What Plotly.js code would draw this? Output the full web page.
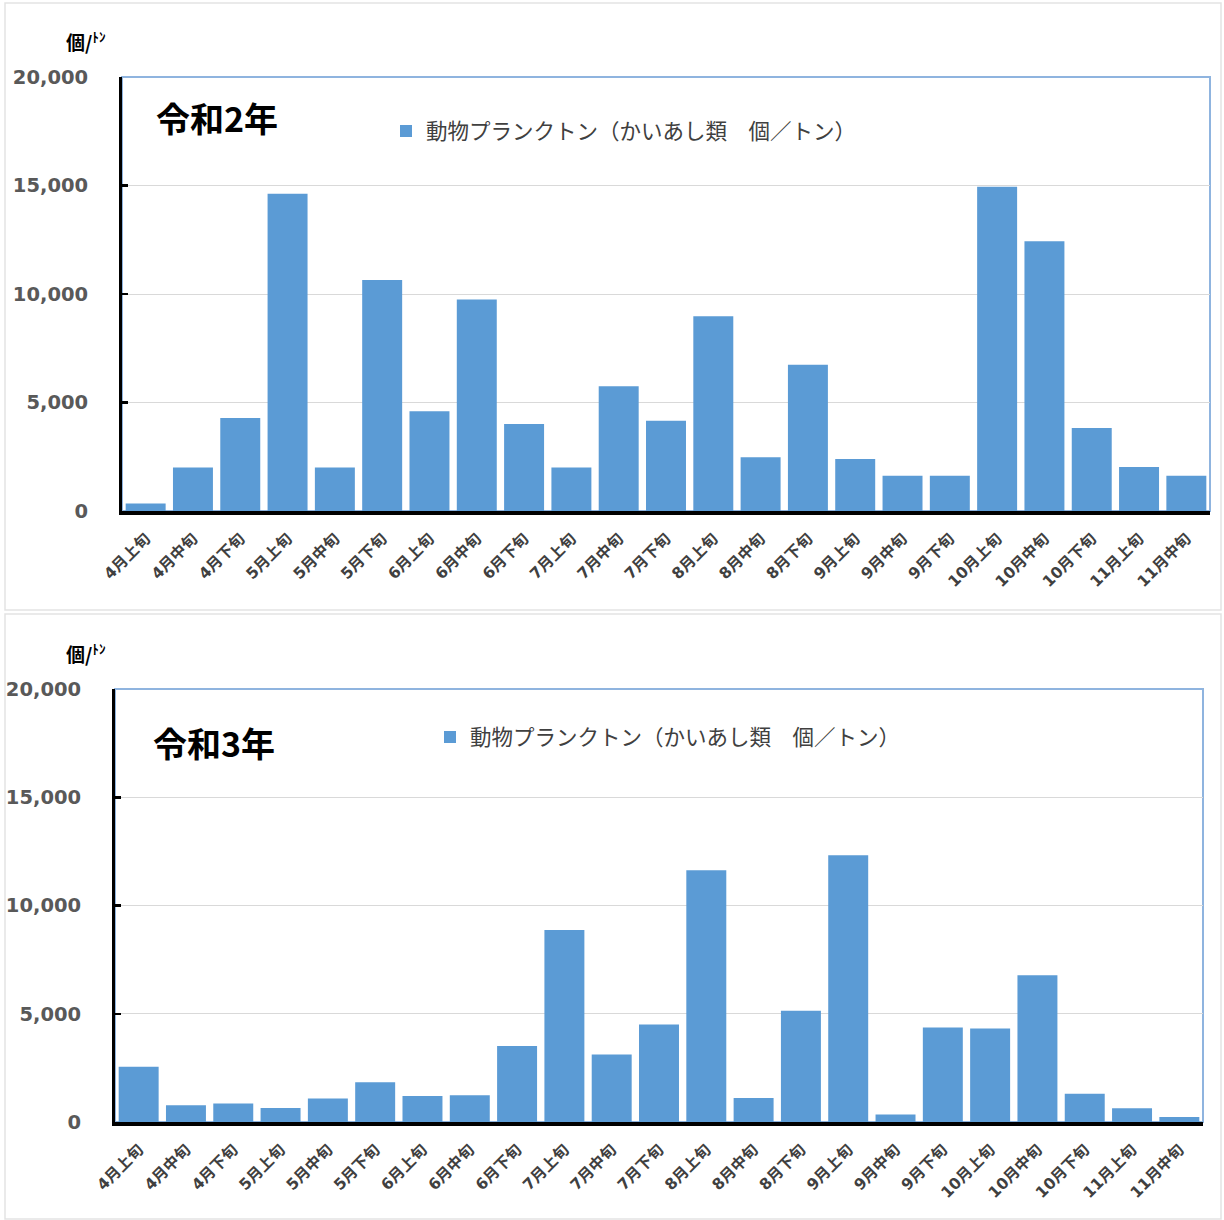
<!DOCTYPE html>
<html>
<head>
<meta charset="utf-8">
<script src="https://cdn.plot.ly/plotly-3.0.1.min.js"></script>
<style>
  html, body { margin: 0; padding: 0; background: #ffffff; }
  #chart { width: 1224px; height: 1220px; }
</style>
</head>
<body>
<div id="chart"></div>
<script>
// Ten-day periods (上旬・中旬・下旬) from April to mid-November
const categories = [
  '4月上旬', '4月中旬', '4月下旬',
  '5月上旬', '5月中旬', '5月下旬',
  '6月上旬', '6月中旬', '6月下旬',
  '7月上旬', '7月中旬', '7月下旬',
  '8月上旬', '8月中旬', '8月下旬',
  '9月上旬', '9月中旬', '9月下旬',
  '10月上旬', '10月中旬', '10月下旬',
  '11月上旬', '11月中旬'
];

// Zooplankton (copepods) counts per ton, Reiwa 2
const r2Values = [
  350, 2000, 4280,
  14620, 2000, 10650,
  4600, 9750, 4010,
  2000, 5750, 4160,
  8970, 2480, 6740,
  2400, 1630, 1630,
  14940, 12430, 3830,
  2030, 1620
];

// Zooplankton (copepods) counts per ton, Reiwa 3
const r3Values = [
  2550, 770, 850,
  650, 1080, 1840,
  1200, 1240, 3510,
  8870, 3120, 4500,
  11630, 1110, 5140,
  12320, 350, 4370,
  4320, 6780, 1300,
  630, 230
];

const seriesName = '動物プランクトン（かいあし類　個／トン）';
const panelTitles = ['令和2年', '令和3年'];
const unitLabel = '個/<sup>ﾄﾝ</sup>';

const yTickVals = [0, 5000, 10000, 15000, 20000];
const yTickText = ['0', '5,000', '10,000', '15,000', '20,000'];

// page pixel -> paper fraction helpers (page is 1224 x 1220)
const W = 1224, H = 1220;
const px = x => x / W;
const py = y => 1 - y / H;

const barColor = '#5b9bd5';
const frameBlue = '#8fb4df';

const xTickFont = { family: 'DejaVu Sans, Noto Sans CJK JP', size: 15.5, color: '#404040', weight: 'bold' };
const yTickFont = { family: 'DejaVu Sans', size: 19.5, color: '#595959', weight: 'bold' };

function xAxisCfg(domain) {
  return {
    domain: domain,
    type: 'category',
    tickangle: -45,
    tickfont: xTickFont,
    ticks: '',
    showline: true,
    linecolor: '#000000',
    linewidth: 3.5,
    showgrid: false,
    zeroline: false,
    ticklabelstandoff: 9,
    automargin: false,
    fixedrange: true
  };
}

function yAxisCfg(domain, anchor) {
  return {
    domain: domain,
    anchor: anchor,
    range: [0, 20000],
    tickvals: yTickVals,
    ticktext: yTickText,
    tickfont: yTickFont,
    ticks: 'inside',
    ticklen: 6,
    tickwidth: 2.5,
    tickcolor: '#000000',
    showline: true,
    linecolor: '#000000',
    linewidth: 3,
    showgrid: true,
    gridcolor: '#d9d9d9',
    gridwidth: 1,
    zeroline: false,
    ticklabelstandoff: 27,
    automargin: false,
    fixedrange: true
  };
}

const traces = [
  {
    type: 'bar',
    x: categories,
    y: r2Values,
    name: seriesName,
    marker: { color: barColor },
    xaxis: 'x',
    yaxis: 'y',
    legend: 'legend',
    hoverinfo: 'x+y'
  },
  {
    type: 'bar',
    x: categories,
    y: r3Values,
    name: seriesName,
    marker: { color: barColor },
    xaxis: 'x2',
    yaxis: 'y2',
    legend: 'legend2',
    hoverinfo: 'x+y'
  }
];

const legendFont = { family: 'Noto Sans CJK JP', size: 21.5, color: '#404040' };

const layout = {
  width: W,
  height: H,
  margin: { l: 0, r: 0, t: 0, b: 0 },
  paper_bgcolor: '#ffffff',
  plot_bgcolor: '#ffffff',
  bargap: 0.155,
  showlegend: true,
  xaxis: xAxisCfg([px(122), px(1210)]),
  yaxis: yAxisCfg([py(511), py(77)], 'x'),
  xaxis2: Object.assign(xAxisCfg([px(115), px(1203)]), { anchor: 'y2' }),
  yaxis2: yAxisCfg([py(1122), py(689)], 'x2'),
  legend: {
    x: px(386), y: py(131), xanchor: 'left', yanchor: 'middle',
    bgcolor: 'rgba(0,0,0,0)', borderwidth: 0, font: legendFont
  },
  legend2: {
    x: px(430), y: py(737), xanchor: 'left', yanchor: 'middle',
    bgcolor: 'rgba(0,0,0,0)', borderwidth: 0, font: legendFont
  },
  shapes: [
    // outer frames of the two panels
    { type: 'rect', xref: 'paper', yref: 'paper', x0: px(5), x1: px(1221), y0: py(610), y1: py(3),
      line: { color: '#e3e3e3', width: 1.5 }, layer: 'below' },
    { type: 'rect', xref: 'paper', yref: 'paper', x0: px(5), x1: px(1221), y0: py(1219), y1: py(614),
      line: { color: '#e3e3e3', width: 1.5 }, layer: 'below' },
    // plot-area borders (top and right edges show in blue)
    { type: 'rect', xref: 'x domain', yref: 'y domain', x0: 0, x1: 1, y0: 0, y1: 1,
      line: { color: frameBlue, width: 2 }, layer: 'below' },
    { type: 'rect', xref: 'x2 domain', yref: 'y2 domain', x0: 0, x1: 1, y0: 0, y1: 1,
      line: { color: frameBlue, width: 2 }, layer: 'below' }
  ],
  annotations: [
    { text: panelTitles[0], xref: 'paper', yref: 'paper', x: px(154), y: py(117),
      xanchor: 'left', yanchor: 'middle', showarrow: false,
      font: { family: 'Noto Sans CJK JP', size: 34, color: '#000000', weight: 'bold' } },
    { text: panelTitles[1], xref: 'paper', yref: 'paper', x: px(151), y: py(742),
      xanchor: 'left', yanchor: 'middle', showarrow: false,
      font: { family: 'Noto Sans CJK JP', size: 34, color: '#000000', weight: 'bold' } },
    { text: unitLabel, xref: 'paper', yref: 'paper', x: px(64), y: py(41),
      xanchor: 'left', yanchor: 'middle', showarrow: false,
      font: { family: 'Noto Sans CJK JP', size: 19, color: '#000000', weight: 'bold' } },
    { text: unitLabel, xref: 'paper', yref: 'paper', x: px(64), y: py(653),
      xanchor: 'left', yanchor: 'middle', showarrow: false,
      font: { family: 'Noto Sans CJK JP', size: 19, color: '#000000', weight: 'bold' } }
  ]
};

Plotly.newPlot('chart', traces, layout, { displayModeBar: false, staticPlot: true });
</script>
</body>
</html>
